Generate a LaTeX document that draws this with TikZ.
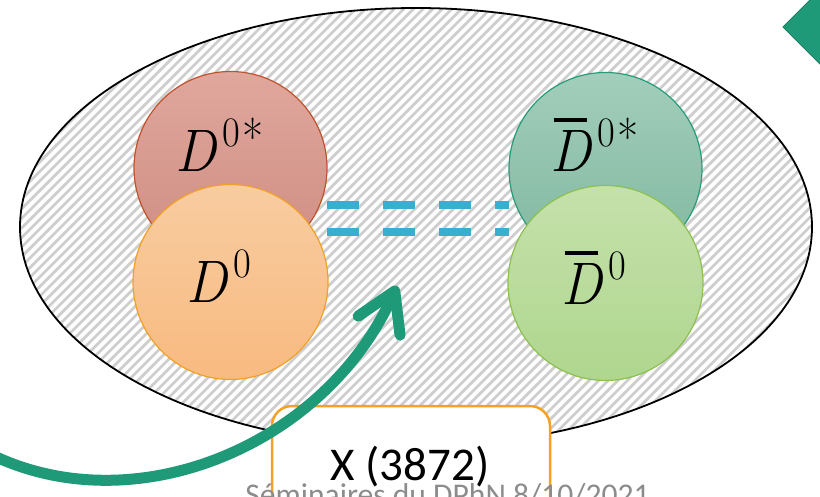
\documentclass[tikz,border=0pt]{standalone}
\usepackage{fontspec}
\usepackage{graphicx}
\usetikzlibrary{arrows.meta}
\newfontfamily\carlito{Carlito}
\definecolor{hatchgray}{RGB}{206,206,206}
\definecolor{dsTop}{RGB}{224,167,157}
\definecolor{dsBot}{RGB}{206,140,129}
\definecolor{dsLine}{RGB}{192,82,45}
\definecolor{dTop}{RGB}{248,204,160}
\definecolor{dBot}{RGB}{248,186,128}
\definecolor{dLine}{RGB}{240,160,40}
\definecolor{bsTop}{RGB}{162,206,187}
\definecolor{bsBot}{RGB}{128,183,159}
\definecolor{bsLine}{RGB}{40,155,120}
\definecolor{bTop}{RGB}{197,225,171}
\definecolor{bBot}{RGB}{175,214,142}
\definecolor{bLine}{RGB}{140,192,80}
\definecolor{dashblue}{RGB}{56,175,206}
\definecolor{teal}{RGB}{31,154,120}
\definecolor{tealdark}{RGB}{24,128,98}
\definecolor{boxorange}{RGB}{242,162,36}
\definecolor{footgray}{RGB}{140,140,140}
\tikzset{
  ball/.style={circle, draw, line width=1.2pt, minimum size=193pt, inner sep=0pt},
  mlabel/.style={anchor=base west, inner sep=0pt, font=\fontsize{60}{60}\selectfont},
  bondline/.style={dashblue, line width=8pt, dash pattern=on 32pt off 24pt},
  arrowline/.style={teal, line width=11pt, line cap=round,
    -{Straight Barb[length=38pt,width=46pt,line cap=round,line join=round]}},
}
\newcommand{\myD}{\textit{D}\hspace{0.1em}}
\newcommand{\myDbar}{\rlap{\hspace{0.06em}\rule[0.84em]{0.6em}{0.065em}}\textit{D}\hspace{0.1em}}
\newcommand{\mysup}[1]{\raisebox{0.42em}{\fontsize{42}{42}\selectfont #1}}
\newcommand{\mystar}{\hspace{0.05em}\raisebox{-0.2em}{\fontsize{50}{50}\selectfont *}}
\newcommand{\mylab}[1]{\scalebox{0.92}[1]{#1}}
\begin{document}
\begin{tikzpicture}[x=1pt,y=-1pt]
\useasboundingbox (0,0) rectangle (820,497);
\clip (0,0) rectangle (820,497);
\fill[white] (0,0) rectangle (820,497);
% hatched ellipse
\begin{scope}
  \clip (416,227) ellipse [x radius=396pt, y radius=219pt];
  \foreach \a in {-460,-450.4,...,830}
    \draw[hatchgray, line width=2.7pt] (\a,460) -- (\a+460,0);
\end{scope}
\draw[black, line width=1.8pt] (416,227) ellipse [x radius=396pt, y radius=219pt];
% dashed bonds
\coordinate (l1) at (327,205);
\coordinate (r1) at (509,205);
\coordinate (l2) at (327,232);
\coordinate (r2) at (509,232);
\draw[bondline] (l1) -- (r1);
\draw[bondline] (l2) -- (r2);
% mesons
\node[ball, draw=dsLine, top color=dsTop, bottom color=dsBot] (ds) at (230.5,168) {};
\node[ball, draw=dLine, top color=dTop, bottom color=dBot, minimum size=195pt] (d) at (230.5,282) {};
\node[ball, draw=bsLine, top color=bsTop, bottom color=bsBot] (bs) at (605.5,169) {};
\node[ball, draw=bLine, top color=bTop, bottom color=bBot, minimum size=195pt] (b) at (605.5,283) {};
\node[mlabel] (dslab) at (175,172) {\mylab{\myD\mysup{0\mystar}}};
\node[mlabel] (dlab) at (186,303) {\mylab{\myD\mysup{0}}};
\node[mlabel] (bslab) at (550,172) {\mylab{\myDbar\mysup{0\mystar}}};
\node[mlabel] (blab) at (561,305) {\mylab{\myDbar\mysup{0}}};
% X(3872) box
\node[draw=boxorange, fill=white, line width=2.5pt, rounded corners=20pt,
      minimum width=278pt, minimum height=160pt, inner sep=0pt] (xbox) at (411,486) {};
\node[anchor=base, inner sep=0pt, font=\carlito\fontsize{47}{47}\selectfont] (xlab) at (410,480) {X (3872)};
% green arrow
\coordinate (astart) at (-25,446);
\coordinate (atip) at (397,286);
\draw[arrowline] (astart) .. controls (120,530) and (322,452) .. (atip);
% diamond top right
\filldraw[fill=teal, draw=tealdark, line width=1pt] (783,27) -- (823,-13) -- (863,27) -- (823,67) -- cycle;
% footer
\node[anchor=base, inner sep=0pt, text=footgray, font=\carlito\fontsize{31.6}{32}\selectfont] (foot) at (447.5,505) {Séminaires du DPhN 8/10/2021};
\end{tikzpicture}
\end{document}
